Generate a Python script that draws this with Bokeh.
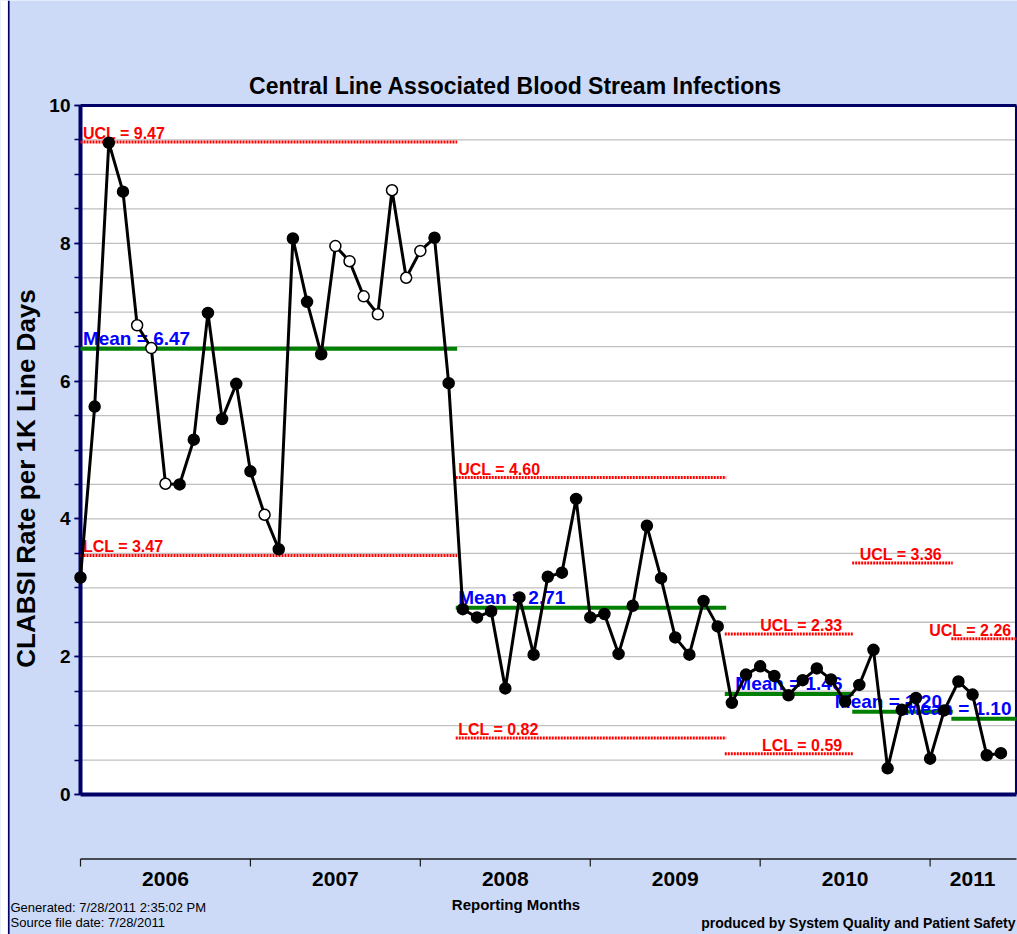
import math
from bokeh.plotting import figure
from bokeh.models import Range1d, FixedTicker, Label, ColumnDataSource
from bokeh.core.properties import value
from bokeh.embed import file_html
from bokeh.resources import INLINE

# ---------------- data ----------------
years = ["2006", "2007", "2008", "2009", "2010", "2011"]

# monthly CLABSI rate, Jan 2006 .. Jun 2011
rates = [3.15, 5.63, 9.46, 8.75, 6.81, 6.48, 4.51, 4.50, 5.15, 6.99, 5.45, 5.96,
         4.69, 4.06, 3.56, 8.07, 7.15, 6.39, 7.96, 7.74, 7.23, 6.97, 8.77, 7.50,
         7.89, 8.08, 5.97, 2.69, 2.57, 2.66, 1.54, 2.86, 2.03, 3.16, 3.22, 4.29,
         2.57, 2.62, 2.04, 2.74, 3.90, 3.14, 2.28, 2.03, 2.81, 2.44, 1.33, 1.74,
         1.86, 1.72, 1.44, 1.66, 1.83, 1.67, 1.35, 1.59, 2.10, 0.38, 1.23, 1.40,
         0.52, 1.22, 1.64, 1.45, 0.57, 0.60]

# points drawn as hollow markers (run-rule signals)
open_points = [4, 5, 6, 13, 18, 19, 20, 21, 22, 23, 24]

# control chart phases
phase_start = [0, 27, 46, 55, 62]
ucl = [9.47, 4.60, 2.33, 3.36, 2.26]
mean = [6.47, 2.71, 1.46, 1.20, 1.10]
lcl = [3.47, 0.82, 0.59, None, None]

y_ticks = [0, 2, 4, 6, 8, 10]

title = "Central Line Associated Blood Stream Infections"
y_label = "CLABSI Rate per 1K Line Days"
x_label = "Reporting Months"
footer_left = ["Generated: 7/28/2011 2:35:02 PM", "Source file date: 7/28/2011"]
footer_right = "produced by System Quality and Patient Safety"

# ---------------- style / layout ----------------
LAV = "#CCDAF8"
NAVY = "#000066"
FONT = "Liberation Sans"
n = len(rates)
X_RIGHT = 66.1          # right edge of plotting area (months)
Y_TOP = 10
W, H = 1017, 934
SX, SY = 14.16, 68.9    # px per month, px per unit
X0_PX, Y0_PX = 80, 794  # pixel position of (0, 0)

def dx(px):
    return (px - X0_PX) / SX

def dy(py):
    return (Y0_PX - py) / SY

p = figure(width=W, height=H,
           x_range=Range1d(dx(0), dx(W)), y_range=Range1d(dy(H), dy(0)),
           x_axis_location=None, toolbar_location=None, output_backend="svg",
           min_border_left=0, min_border_right=0, min_border_top=0, min_border_bottom=0,
           title=None)
p.background_fill_color = LAV
p.border_fill_color = LAV
p.outline_line_color = None
p.grid.grid_line_color = None

ax = p.yaxis[0]
ax.fixed_location = 0
ax.bounds = (0, 10)
ax.ticker = FixedTicker(ticks=y_ticks, minor_ticks=[i * 0.5 for i in range(21)])
ax.axis_line_color = None
ax.major_tick_in = 0
ax.major_tick_out = 6
ax.minor_tick_in = 0
ax.minor_tick_out = 6
ax.major_tick_line_color = NAVY
ax.minor_tick_line_color = NAVY
ax.major_tick_line_width = 1.5
ax.minor_tick_line_width = 1.5
ax.major_label_standoff = 4
ax.major_label_text_font = FONT
ax.major_label_text_font_style = "bold"
ax.major_label_text_font_size = "19px"
ax.major_label_text_color = "black"

# white page strip and dark edge line at far left
p.quad(left=dx(0), right=dx(7), bottom=dy(H), top=dy(0), fill_color="white", line_color=None)
p.segment(x0=[dx(8.3)], x1=[dx(8.3)], y0=[dy(H)], y1=[dy(0)], line_color=NAVY, line_width=1.6)

# plotting area
p.quad(left=0, right=X_RIGHT, bottom=0, top=Y_TOP, fill_color="white", line_color=None)
grid_vals = [i * 0.5 for i in range(1, 20)]
p.segment(x0=[0] * len(grid_vals), x1=[X_RIGHT] * len(grid_vals), y0=grid_vals, y1=grid_vals,
          line_color="#808080", line_width=1.3, line_dash="1 1")
p.segment(x0=[0, 0, 0, X_RIGHT], x1=[0, X_RIGHT, X_RIGHT, X_RIGHT],
          y0=[0, 0, Y_TOP, 0], y1=[Y_TOP, 0, Y_TOP, Y_TOP],
          line_color=NAVY, line_width=[4, 4, 3, 3])

# control limits
x0s, x1s = [], []
for i, s in enumerate(phase_start):
    x0s.append(max(s - 0.5, 0))
    x1s.append(phase_start[i + 1] - 0.4 if i + 1 < len(phase_start) else X_RIGHT)

def lim_segments(vals):
    idx = [i for i, v in enumerate(vals) if v is not None]
    return dict(x0=[x0s[i] for i in idx], x1=[x1s[i] for i in idx],
                y=[vals[i] for i in idx])

for vals in (ucl, lcl):
    d = lim_segments(vals)
    p.segment(x0=d["x0"], x1=d["x1"], y0=d["y"], y1=d["y"],
              line_color="#FF0000", line_width=3, line_dash="2 1")
d = lim_segments(mean)
p.segment(x0=d["x0"], x1=d["x1"], y0=d["y"], y1=d["y"], line_color="#008000", line_width=4)

# limit labels: first two phases left-aligned at start, the rest right-aligned near the end
right_end = [None, None, dx(842), dx(941.5), dx(1011)]
for kind, vals, color, size in (("UCL", ucl, "#FF0000", "16px"),
                                ("LCL", lcl, "#FF0000", "16px"),
                                ("Mean", mean, "#0000FF", "19px")):
    xs, ys, ts, aligns = [], [], [], []
    for i, v in enumerate(vals):
        if v is None:
            continue
        if right_end[i] is None:
            xs.append(x0s[i] + 0.17)
            aligns.append("left")
        else:
            xs.append(right_end[i])
            aligns.append("right")
        ys.append(v)
        ts.append(f"{kind} = {v:.2f}")
    src = ColumnDataSource(dict(x=xs, y=ys, text=ts, align=aligns))
    p.text(x="x", y="y", text="text", source=src, text_align="align", text_baseline="bottom",
           text_color=color, text_font=value(FONT), text_font_style="bold",
           text_font_size=size)

# data series
xs = list(range(n))
p.line(xs, rates, line_color="black", line_width=3)
fills = ["white" if i in open_points else "black" for i in range(n)]
p.scatter(x="x", y="y", source=ColumnDataSource(dict(x=xs, y=rates, fill=fills)),
          size=11, fill_color="fill", line_color="black", line_width=1.5)

# bottom year axis
AX_Y = dy(858.5)
p.segment(x0=[0], x1=[X_RIGHT], y0=[AX_Y], y1=[AX_Y], line_color="#1a1a1a", line_width=1.5)
tick_x = [12 * i for i in range(len(years))]
p.segment(x0=tick_x, x1=tick_x, y0=[AX_Y] * len(tick_x), y1=[dy(866)] * len(tick_x),
          line_color="#1a1a1a", line_width=1.2)
year_x = [(t + min(t + 12, n)) / 2 for t in tick_x]
p.text(x=year_x, y=[dy(878.5)] * len(years), text=years, text_align="center",
       text_baseline="middle", text_font=value(FONT), text_font_style="bold",
       text_font_size="21px", text_color="black")

# texts
p.add_layout(Label(x=dx(515), y=dy(85), text=title, text_align="center", text_baseline="middle",
                   text_font=FONT, text_font_style="bold", text_font_size="23px",
                   text_color="black"))
p.add_layout(Label(x=dx(25), y=dy(478), text=y_label, angle=math.pi / 2, text_align="center",
                   text_baseline="middle", text_font=FONT, text_font_style="bold",
                   text_font_size="26px", text_color="black"))
p.add_layout(Label(x=dx(515.5), y=dy(904), text=x_label, text_align="center",
                   text_baseline="middle", text_font=FONT, text_font_style="bold",
                   text_font_size="15px", text_color="black"))
for k, t in enumerate(footer_left):
    p.add_layout(Label(x=dx(10), y=dy(907 + 15 * k), text=t, text_align="left",
                       text_baseline="alphabetic", text_font=FONT, text_font_size="13px",
                       text_color="black"))
p.add_layout(Label(x=dx(1015), y=dy(922), text=footer_right, text_align="right",
                   text_baseline="alphabetic", text_font=FONT, text_font_style="bold",
                   text_font_size="14px", text_color="black"))

open("out.html", "w").write(file_html(p, INLINE))
